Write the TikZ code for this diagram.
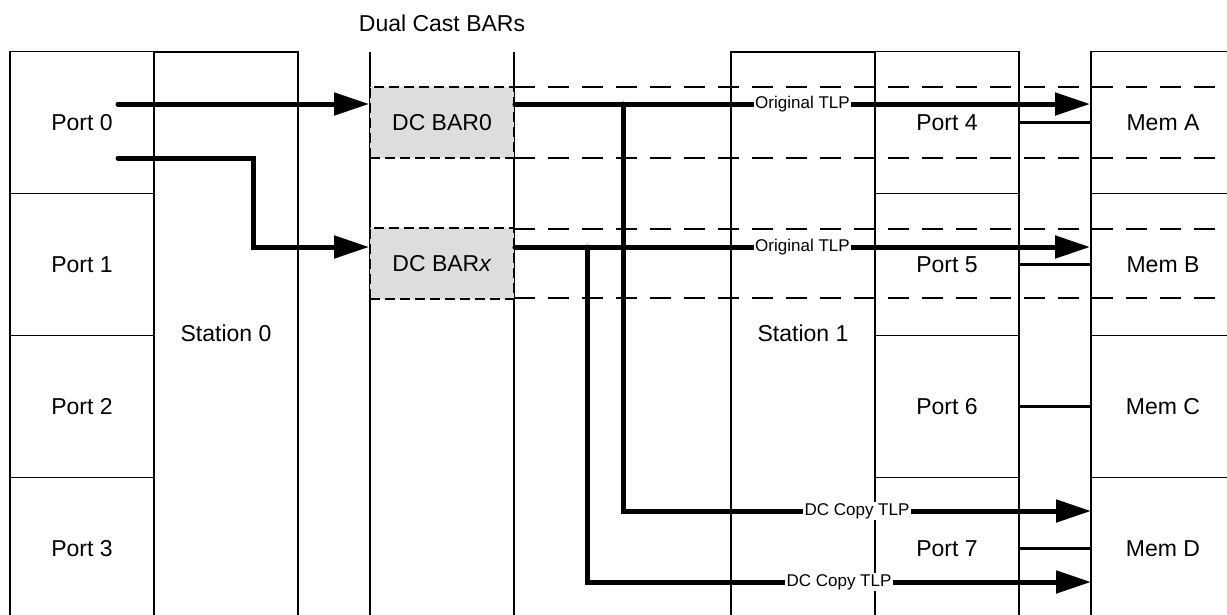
\documentclass[tikz,border=0pt]{standalone}
\usepackage{fontspec}
\setmainfont{Liberation Sans}
\usetikzlibrary{arrows.meta}
\definecolor{bargray}{HTML}{DDDDDD}
\begin{document}
\begin{tikzpicture}[x=1pt,y=-1pt,
  every node/.style={font=\fontsize{23}{27}\selectfont, inner sep=0pt},
  cell/.style={draw, line width=1.9pt, minimum width=144pt, minimum height=142pt},
  frame/.style={line width=1.9pt},
  guide/.style={line width=1.4pt},
  dline/.style={line width=1.9pt, dash pattern=on 21pt off 13pt},
  barbox/.style={draw, fill=bargray, line width=1.8pt, dash pattern=on 10pt off 5pt, minimum width=144pt, minimum height=71pt},
  flow/.style={line width=5pt, line cap=round, line join=miter, -{Triangle[length=35pt,width=22pt]}},
  link/.style={line width=3.3pt},
  lbl/.style={fill=white, inner sep=1.5pt, font=\fontsize{17}{19}\selectfont}]
\clip (0,0) rectangle (1227,614);
\fill[white] (0,0) rectangle (1227,614);

% title
\node (title) at (442,23) {Dual Cast BARs};

% dashed lanes
\draw[dline] (514,87) -- (1240,87);
\draw[dline] (514,158) -- (1240,158);
\draw[dline] (514,229) -- (1240,229);
\draw[dline] (514,298) -- (1240,298);

% BAR column guides
\draw[guide] (370,52) -- (370,620);
\draw[guide] (514,52) -- (514,620);

% station frames
\draw[frame] (154,620) |- (298,52) -- (298,620);
\draw[frame] (731,620) |- (875,52) -- (875,620);
\node (st0) at (226,333) {Station 0};
\node (st1) at (803,333) {Station 1};

% left ports
\node[cell] (p0) at (82,122.5) {Port 0};
\node[cell] (p1) at (82,264.5) {Port 1};
\node[cell] (p2) at (82,406.5) {Port 2};
\node[cell] (p3) at (82,548.5) {Port 3};

% right ports
\node[cell] (p4) at (947,122.5) {Port 4};
\node[cell] (p5) at (947,264.5) {Port 5};
\node[cell] (p6) at (947,406.5) {Port 6};
\node[cell] (p7) at (947,548.5) {Port 7};

% memories
\node[cell] (memA) at (1163,122.5) {Mem A};
\node[cell] (memB) at (1163,264.5) {Mem B};
\node[cell] (memC) at (1163,406.5) {Mem C};
\node[cell] (memD) at (1163,548.5) {Mem D};

% dual cast BARs
\node[barbox] (bar0) at (442,122.5) {DC BAR0};
\node[barbox] (barx) at (442,263.5) {DC BAR\textit{x}};

% port to memory links
\draw[link] (p4.east) -- (memA.west);
\draw[link] (p5.east) -- (memB.west);
\draw[link] (p6.east) -- (memC.west);
\draw[link] (p7.east) -- (memD.west);

% flows
\coordinate (s0) at (118,104);
\coordinate (s1) at (118,158);
\coordinate (k1) at (253,247);
\coordinate (b0) at (623,104);
\coordinate (bx) at (587,247);
\coordinate (t0) at (1091,511);
\coordinate (tx) at (1091,582);

\draw[flow] (s0) -- (bar0.west |- s0);
\draw[flow] (s1) -| (k1) -- (barx.west |- k1);

\draw[flow] (b0) |- node[lbl,pos=0.75]{DC Copy TLP} (t0);
\draw[flow] (bx) |- node[lbl,pos=0.75]{DC Copy TLP} (tx);
\draw[flow] (bar0.east |- s0) -- node[lbl]{Original TLP} (memA.west |- s0);
\draw[flow] (barx.east |- k1) -- node[lbl]{Original TLP} (memB.west |- k1);
\end{tikzpicture}
\end{document}
